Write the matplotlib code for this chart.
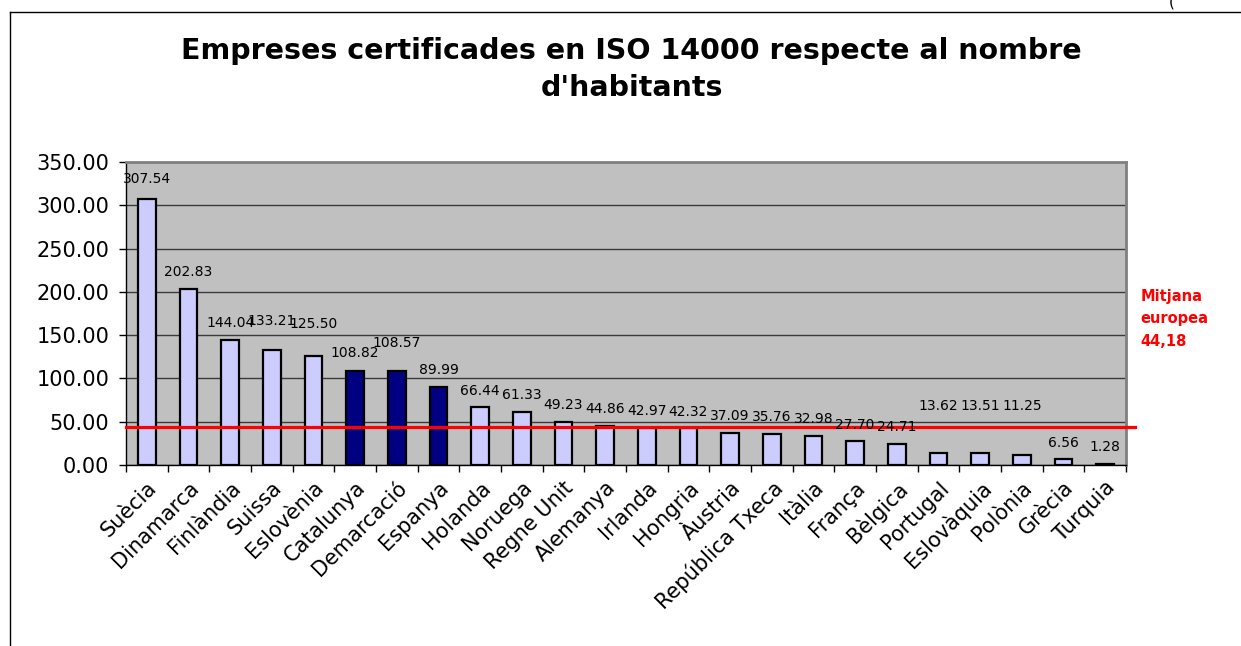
import matplotlib.pyplot as plt
from matplotlib.lines import Line2D

# data
countries = ['Suècia', 'Dinamarca', 'Finlàndia', 'Suissa', 'Eslovènia', 'Catalunya',
             'Demarcació', 'Espanya', 'Holanda', 'Noruega', 'Regne Unit', 'Alemanya',
             'Irlanda', 'Hongria', 'Àustria', 'República Txeca', 'Itàlia', 'França',
             'Bèlgica', 'Portugal', 'Eslovàquia', 'Polònia', 'Grècia', 'Turquia']
values = [307.54, 202.83, 144.04, 133.21, 125.50, 108.82, 108.57, 89.99, 66.44, 61.33,
          49.23, 44.86, 42.97, 42.32, 37.09, 35.76, 32.98, 27.70, 24.71, 13.62,
          13.51, 11.25, 6.56, 1.28]
highlight = ['Catalunya', 'Demarcació', 'Espanya']
mean_eu = 44.18

# where Excel put the value labels (y in data units)
label_y = [330, 223, 164, 166, 163, 129, 141, 110, 85, 81, 69, 65, 62, 61, 57, 55,
           53, 46, 44, 68, 68, 68, 25, 21]

fig = plt.figure(figsize=(12.41, 6.46), dpi=100)
ax = fig.add_axes([0.1015, 0.2802, 0.8058, 0.469])
ax.set_facecolor('#c0c0c0')

x = range(len(countries))
colors = ['#000080' if c in highlight else '#ccccff' for c in countries]
ax.bar(x, values, width=0.43, color=colors, edgecolor='black', linewidth=1.6, zorder=3)

for i, v in enumerate(values):
    ax.text(i, label_y[i], f'{v:.2f}', ha='center', va='center', fontsize=10, zorder=5)

ax.axhline(mean_eu, xmin=0, xmax=1.009, color='#ff0000', lw=2.3, clip_on=False, zorder=4)
ax.text(1.0145, 0.482, 'Mitjana\neuropea\n44,18', transform=ax.transAxes, color='#ff0000',
        fontsize=10.5, fontweight='bold', va='center', ha='left', linespacing=1.6)

ax.set_ylim(0, 350)
ax.set_xlim(-0.5, len(countries) - 0.5)
ax.set_yticks(range(0, 351, 50))
ax.set_yticklabels([f'{t:.2f}' for t in range(0, 351, 50)], fontsize=15)
ax.yaxis.grid(True, color='#3a3a3a', lw=1)
ax.set_axisbelow(True)

ax.set_xticks([i + 0.5 for i in range(-1, len(countries))], minor=True)
ax.set_xticks(list(x))
ax.set_xticklabels(countries, rotation=45, ha='right', rotation_mode='anchor', fontsize=15)
ax.tick_params(axis='x', which='major', length=0, pad=9)
ax.tick_params(axis='x', which='minor', length=5, width=1, direction='out')
ax.tick_params(axis='y', length=5, width=1, direction='out', pad=7)

for s in ['top', 'right']:
    ax.spines[s].set_color('#808080')
    ax.spines[s].set_linewidth(2)
for s in ['left', 'bottom']:
    ax.spines[s].set_color('black')
    ax.spines[s].set_linewidth(1)

fig.text(0.509, 0.893, "Empreses certificades en ISO 14000 respecte al nombre\nd'habitants",
         ha='center', va='center', fontsize=20.5, fontweight='bold', linespacing=1.42)

# outer frame of the chart object
fig.add_artist(Line2D([0.008, 1.0], [0.981, 0.981], transform=fig.transFigure, color='black', lw=1))
fig.add_artist(Line2D([0.008, 0.008], [0.0, 0.981], transform=fig.transFigure, color='black', lw=1))
fig.text(0.944, 0.997, '(', ha='center', va='center', fontsize=11)

fig.savefig('out.png', dpi=100)
